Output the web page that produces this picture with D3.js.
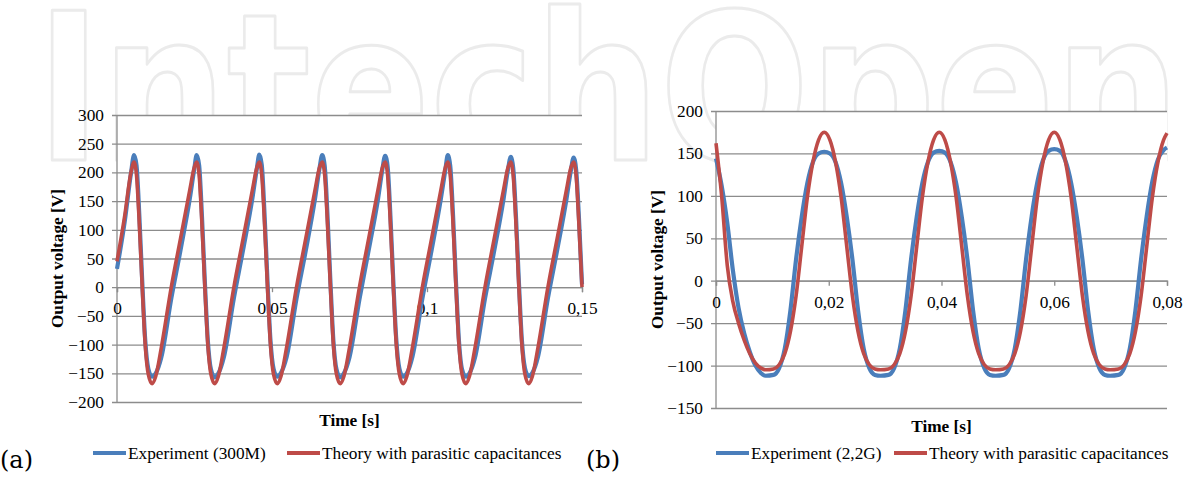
<!DOCTYPE html>
<html>
<head>
<meta charset="utf-8">
<script src="https://cdn.jsdelivr.net/npm/d3@7"></script>
<style>
    body { margin: 0; background: #fff; }
    svg { display: block; }
</style>
</head>
<body>
<script>
    // ---- chart (a): 300M resistor ----
    const timeA = [0, 0.0025, 0.0045,
        0.0055, 0.0063, 0.0072, 0.0081, 0.0091, 0.0101, 0.0113, 0.0125, 0.0143, 0.0175, 0.0205, 0.0235, 0.0249,
        0.0257, 0.0265, 0.0274, 0.0283, 0.0293, 0.0303, 0.0315, 0.0327, 0.0345, 0.0377, 0.0407, 0.0437, 0.0451,
        0.0459, 0.0467, 0.0476, 0.0485, 0.0495, 0.0505, 0.0517, 0.0529, 0.0547, 0.0579, 0.0609, 0.0639, 0.0653,
        0.0662, 0.0670, 0.0679, 0.0688, 0.0698, 0.0708, 0.0720, 0.0732, 0.0750, 0.0782, 0.0812, 0.0842, 0.0856,
        0.0865, 0.0873, 0.0882, 0.0891, 0.0901, 0.0911, 0.0923, 0.0935, 0.0953, 0.0985, 0.1015, 0.1045, 0.1059,
        0.1067, 0.1075, 0.1084, 0.1093, 0.1103, 0.1113, 0.1125, 0.1137, 0.1155, 0.1187, 0.1217, 0.1247, 0.1261,
        0.1270, 0.1278, 0.1287, 0.1296, 0.1306, 0.1316, 0.1328, 0.1340, 0.1358, 0.1390, 0.1420, 0.1450, 0.1464,
        0.1473, 0.1481, 0.1490, 0.1500];
    const expA = [32, 115, 198,
        230, 212, 125, 15, -92, -142, -156, -150, -122, -20, 65, 155, 205,
        230, 212, 124, 14, -93, -143, -157, -150, -121, -19, 66, 156, 206,
        231, 213, 126, 16, -92, -142, -156, -149, -122, -20, 64, 155, 206,
        230, 211, 125, 15, -93, -143, -157, -150, -122, -21, 65, 154, 205,
        229, 210, 124, 14, -92, -142, -156, -150, -121, -20, 65, 155, 204,
        230, 211, 125, 15, -93, -143, -156, -150, -122, -20, 64, 154, 204,
        227, 208, 123, 14, -92, -141, -155, -149, -121, -19, 65, 154, 203,
        226, 205, 122, 5];
    const theoryA = [45, 125, 200,
        218, 195, 110, 5, -100, -152, -168, -155, -105, 0, 85, 170, 208,
        218, 195, 110, 5, -100, -152, -168, -155, -105, 0, 85, 170, 208,
        218, 195, 110, 5, -100, -152, -168, -155, -105, 0, 85, 170, 208,
        218, 195, 110, 5, -100, -152, -168, -155, -105, 0, 85, 170, 208,
        218, 195, 110, 5, -100, -152, -168, -155, -105, 0, 85, 170, 208,
        218, 195, 110, 5, -100, -152, -168, -155, -105, 0, 85, 170, 208,
        218, 195, 110, 5, -100, -152, -168, -155, -105, 0, 85, 170, 208,
        218, 195, 110, 0];
    const xTicksA = [0, 0.05, 0.1, 0.15];
    const yTicksA = [-200, -150, -100, -50, 0, 50, 100, 150, 200, 250, 300];

    // ---- chart (b): 2,2G resistor ----
    const timeB = [0, 0.001, 0.002, 0.003, 0.004, 0.005, 0.006, 0.007, 0.008, 0.0088,
        0.0102, 0.0112, 0.0122, 0.0132, 0.0142, 0.0152, 0.0162, 0.0172, 0.0182, 0.0192,
        0.0202, 0.0212, 0.0222, 0.0232, 0.0242, 0.0252, 0.0262, 0.0272, 0.0282, 0.0292,
        0.0306, 0.0316, 0.0326, 0.0336, 0.0346, 0.0356, 0.0366, 0.0376, 0.0386, 0.0396,
        0.0406, 0.0416, 0.0426, 0.0436, 0.0446, 0.0456, 0.0466, 0.0476, 0.0486, 0.0496,
        0.0510, 0.0520, 0.0530, 0.0540, 0.0550, 0.0560, 0.0570, 0.0580, 0.0590, 0.0600,
        0.0610, 0.0620, 0.0630, 0.0640, 0.0650, 0.0660, 0.0670, 0.0680, 0.0690, 0.0699,
        0.0714, 0.0724, 0.0734, 0.0744, 0.0754, 0.0764, 0.0774, 0.0784, 0.0794, 0.0800];
    const expB = [144, 112, 68, 12, -32, -62, -84, -100, -109, -112,
        -111, -103, -80, -35, 25, 75, 115, 140, 150, 152,
        150, 140, 115, 75, 25, -35, -80, -103, -111, -112,
        -111, -103, -80, -35, 25, 75, 115, 140, 151, 153,
        151, 140, 115, 75, 25, -35, -80, -103, -111, -112,
        -111, -103, -80, -35, 25, 76, 116, 142, 153, 155,
        153, 141, 115, 75, 25, -35, -80, -103, -111, -112,
        -111, -103, -80, -35, 25, 76, 117, 143, 154, 157];
    const theoryB = [162, 100, 18, -25, -50, -70, -86, -97, -103, -105,
        -104, -99, -86, -60, -18, 40, 98, 140, 166, 175,
        166, 140, 98, 40, -18, -60, -86, -99, -104, -105,
        -104, -99, -86, -60, -18, 40, 98, 140, 166, 175,
        166, 140, 98, 40, -18, -60, -86, -99, -104, -105,
        -104, -99, -86, -60, -18, 40, 98, 140, 166, 175,
        166, 140, 98, 40, -18, -60, -86, -99, -104, -105,
        -104, -99, -86, -60, -18, 40, 98, 140, 166, 174];
    const xTicksB = [0, 0.02, 0.04, 0.06, 0.08];
    const yTicksB = [-150, -100, -50, 0, 50, 100, 150, 200];

    const blue = "#4a7ebb";
    const red = "#be4b48";
    const grid = "#8c8c8c";
    const serif = '"Liberation Serif", "Times New Roman", serif';

    const svg = d3.select("body").append("svg")
        .attr("width", 1189)
        .attr("height", 481);

    // faint publisher watermark behind everything
    svg.append("text")
        .attr("x", 36)
        .attr("y", 160)
        .style("font-family", '"DejaVu Sans", sans-serif')
        .style("font-weight", "bold")
        .style("font-size", "205px")
        .attr("fill", "none")
        .attr("stroke", "#ebebeb")
        .attr("stroke-width", 3)
        .attr("stroke-linejoin", "round")
        .attr("textLength", 1144)
        .attr("lengthAdjust", "spacingAndGlyphs")
        .text("IntechOpen");

    function comma(d) {
        return String(d).replace(".", ",");
    }

    function drawChart(c) {
        const x = d3.scaleLinear().domain(c.xDomain).range([c.left, c.right]);
        const y = d3.scaleLinear().domain(c.yDomain).range([c.bottom, c.top]);
        const g = svg.append("g");

        // plot area hides the watermark
        g.append("rect")
            .attr("x", c.left)
            .attr("y", c.top)
            .attr("width", c.right - c.left)
            .attr("height", c.bottom - c.top)
            .attr("fill", "#fff");

        // horizontal gridlines + left ticks + labels
        const ya = g.append("g")
            .attr("transform", `translate(${c.left - 5},0)`)
            .call(d3.axisLeft(y).tickValues(c.yTicks).tickSize(-(c.right - c.left + 5)).tickPadding(8).tickFormat(d3.format("d")));
        ya.select(".domain").remove();
        ya.selectAll(".tick line").attr("stroke", grid).attr("stroke-width", 1.3);
        ya.selectAll(".tick text")
            .style("font-family", serif).style("font-size", "17.3px").attr("fill", "#000");

        // vertical axis line
        g.append("line")
            .attr("x1", c.left).attr("x2", c.left)
            .attr("y1", c.top).attr("y2", c.bottom + 1)
            .attr("stroke", grid).attr("stroke-width", 1.3);

        // time axis sits on the zero line
        const xa = g.append("g")
            .attr("transform", `translate(0,${y(0)})`)
            .call(d3.axisBottom(x).tickValues(c.xTicks).tickSize(5).tickPadding(10).tickFormat(comma));
        xa.select(".domain").attr("stroke", grid).attr("stroke-width", 1.3);
        xa.selectAll(".tick line").attr("stroke", grid).attr("stroke-width", 1.3);
        xa.selectAll(".tick text")
            .style("font-family", serif).style("font-size", "17.3px").attr("fill", "#000");

        const line = d3.line()
            .x((d, i) => x(c.time[i]))
            .y(d => y(d))
            .curve(d3.curveMonotoneX);

        g.append("path")
            .attr("d", line(c.exp))
            .attr("fill", "none")
            .attr("stroke", blue)
            .attr("stroke-width", 4.2)
            .attr("stroke-linejoin", "round");

        g.append("path")
            .attr("d", line(c.theory))
            .attr("fill", "none")
            .attr("stroke", red)
            .attr("stroke-width", 3.6)
            .attr("stroke-linejoin", "round");

        // axis titles
        g.append("text")
            .attr("transform", `translate(${c.yTitleX},${(c.top + c.bottom) / 2}) rotate(-90)`)
            .attr("text-anchor", "middle")
            .attr("dy", "0.35em")
            .style("font-family", serif).style("font-size", "17.3px").style("font-weight", "bold")
            .text("Output voltage [V]");

        g.append("text")
            .attr("x", (c.left + c.right) / 2)
            .attr("y", c.xTitleY)
            .attr("text-anchor", "middle")
            .attr("dy", "0.35em")
            .style("font-family", serif).style("font-size", "17.3px").style("font-weight", "bold")
            .text("Time [s]");

        // legend
        const leg = [
            { label: c.expLabel, color: blue, x: c.legX[0] },
            { label: "Theory with parasitic capacitances", color: red, x: c.legX[1] }
        ];
        leg.forEach(l => {
            g.append("line")
                .attr("x1", l.x).attr("x2", l.x + 33)
                .attr("y1", 453).attr("y2", 453)
                .attr("stroke", l.color)
                .attr("stroke-width", 4);
            g.append("text")
                .attr("x", l.x + 35)
                .attr("y", 453)
                .attr("dy", "0.35em")
                .style("font-family", serif).style("font-size", "17.3px")
                .text(l.label);
        });

        g.append("text")
            .attr("x", c.panelX)
            .attr("y", 468)
            .style("font-family", '"DejaVu Serif", serif').style("font-size", "24px")
            .text(c.panel);
    }

    drawChart({
        left: 117, right: 582, top: 115, bottom: 402,
        xDomain: [0, 0.15], yDomain: [-200, 300],
        xTicks: xTicksA, yTicks: yTicksA,
        time: timeA, exp: expA, theory: theoryA,
        expLabel: "Experiment (300M)",
        yTitleX: 57, xTitleY: 420, legX: [93, 287],
        panel: "(a)", panelX: 0
    });

    drawChart({
        left: 716, right: 1167, top: 111, bottom: 408,
        xDomain: [0, 0.08], yDomain: [-150, 200],
        xTicks: xTicksB, yTicks: yTicksB,
        time: timeB, exp: expB, theory: theoryB,
        expLabel: "Experiment (2,2G)",
        yTitleX: 657, xTitleY: 426, legX: [716, 894],
        panel: "(b)", panelX: 586
    });
</script>
</body>
</html>
